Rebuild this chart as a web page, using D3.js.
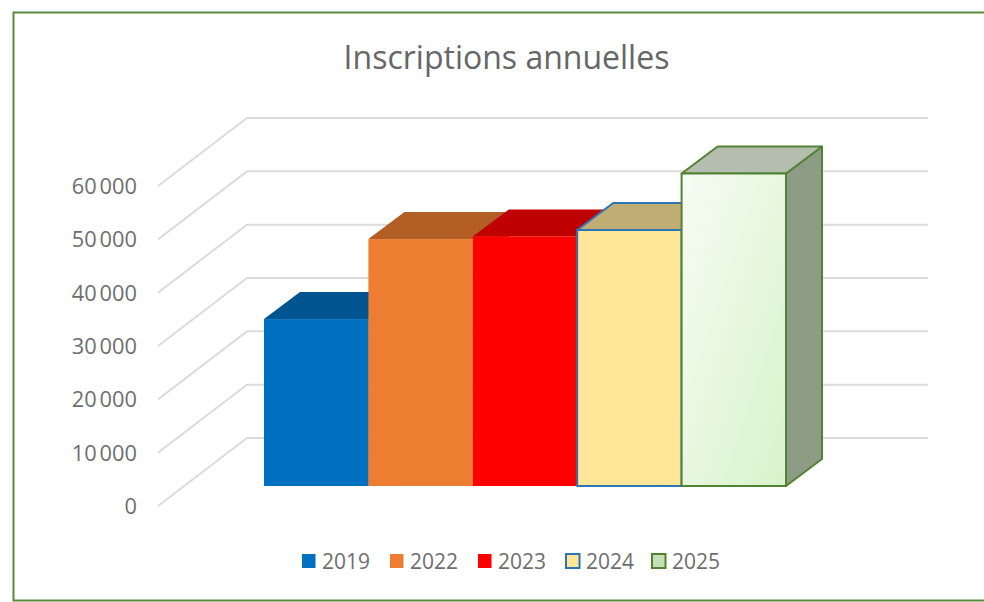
<!DOCTYPE html>
<html><head><meta charset="utf-8">
<script src="https://cdn.jsdelivr.net/npm/d3@7"></script>
<style>html,body{margin:0;padding:0;background:#fff}svg{display:block}text{font-family:"Open Sans",sans-serif}</style>
</head><body><svg id="c" width="984" height="602"></svg>
<script>
const chartTitle = "Inscriptions annuelles";
const categories = ["2019","2022","2023","2024","2025"];
const values = [31300,46300,46800,48000,58600];
const axisTicks = [0,10000,20000,30000,40000,50000,60000];
const frontFill = ["#0070C0","#ED7D31","#FF0000","#FFE699","url(#g2025)"];
const topFill = ["#00548F","#B25E25","#BF0000","#BFAD73","#B3BEAE"];
const sideFill = ["#00548F","#B25E25","#BF0000","#BFAD73","#8D9C85"];
const edge = [null,null,null,"#2E75B6","#548235"];
const legendFill = ["#0070C0","#ED7D31","#FF0000","#FFE699","#C5E0B4"];
const legendX = [302,390,478,566,652];

const svg = d3.select("#c");
const grad = svg.append("defs").append("linearGradient").attr("id","g2025")
  .attr("x1","0").attr("y1","0").attr("x2","1").attr("y2","1");
grad.append("stop").attr("offset","0").attr("stop-color","#F6FCF3");
grad.append("stop").attr("offset","1").attr("stop-color","#D8F3CB");

// frame
svg.append("rect").attr("x",13.5).attr("y",12.5).attr("width",1000).attr("height",588)
  .attr("fill","#fff").attr("stroke","#5B8A3C").attr("stroke-width",2);

svg.append("text").attr("x",506.5).attr("y",68.5).attr("text-anchor","middle")
  .attr("font-size",32).attr("fill","#666").text(chartTitle);

// scales
const yBack = d3.scaleLinear().domain([0,60000]).range([438,118]);
const yLabel = d3.scaleLinear().domain([0,60000]).range([506.5,186.5]);
const yBar = d3.scaleLinear().domain([0,60000]).range([486,166]);
const x = d3.scaleBand().domain(categories).range([264,786]);
const wall = {dx:89, dy:68}, depth = {dx:36, dy:27};

// gridlines: side wall and back wall
const grid = svg.append("g").attr("stroke","#DCDCDC").attr("stroke-width",2).attr("fill","none");
grid.selectAll("path").data(axisTicks).join("path")
  .attr("d",t=>`M158,${yBack(t)+wall.dy}L247,${yBack(t)}L928,${yBack(t)}`);

// axis labels
const ax = svg.append("g").attr("transform","translate(137,0)")
  .call(d3.axisLeft(yLabel).tickValues(axisTicks).tickSize(0).tickPadding(0)
    .tickFormat(d=>d===0?"0":d3.format(",")(d).replace(",","\u202f")));
ax.select(".domain").remove();
ax.selectAll("text").attr("font-size",21.8).attr("fill","#6E6E6E").style("font-family",'"Open Sans",sans-serif');

// bars
const rows = categories.map((c,i)=>({c,i,v:values[i]}));
const bars = svg.append("g").selectAll("g").data(rows).join("g")
  .attr("stroke",d=>edge[d.i]||"none").attr("stroke-width",2).attr("stroke-linejoin","round");
bars.append("path").attr("fill",d=>sideFill[d.i]).attr("d",d=>{
  const r=x(d.c)+x.bandwidth(),t=yBar(d.v),b=yBar(0);
  return `M${r},${t}L${r+depth.dx},${t-depth.dy}L${r+depth.dx},${b-depth.dy}L${r},${b}Z`;});
bars.append("path").attr("fill",d=>topFill[d.i]).attr("d",d=>{
  const l=x(d.c),r=l+x.bandwidth(),t=yBar(d.v);
  return `M${l},${t}L${l+depth.dx},${t-depth.dy}L${r+depth.dx},${t-depth.dy}L${r},${t}Z`;});
bars.append("rect").attr("fill",d=>frontFill[d.i])
  .attr("x",d=>x(d.c)).attr("y",d=>yBar(d.v))
  .attr("width",x.bandwidth()).attr("height",d=>yBar(0)-yBar(d.v));

// legend
const leg = svg.append("g").selectAll("g").data(rows).join("g")
  .attr("transform",d=>`translate(${legendX[d.i]},561)`);
leg.append("rect").attr("x",0).attr("y",-7).attr("width",13.5).attr("height",14)
  .attr("fill",d=>legendFill[d.i]).attr("stroke",d=>edge[d.i]||"none").attr("stroke-width",2);
leg.append("text").attr("x",20).attr("y",7.5).attr("font-size",21).attr("fill","#6E6E6E").text(d=>d.c);
</script></body></html>
